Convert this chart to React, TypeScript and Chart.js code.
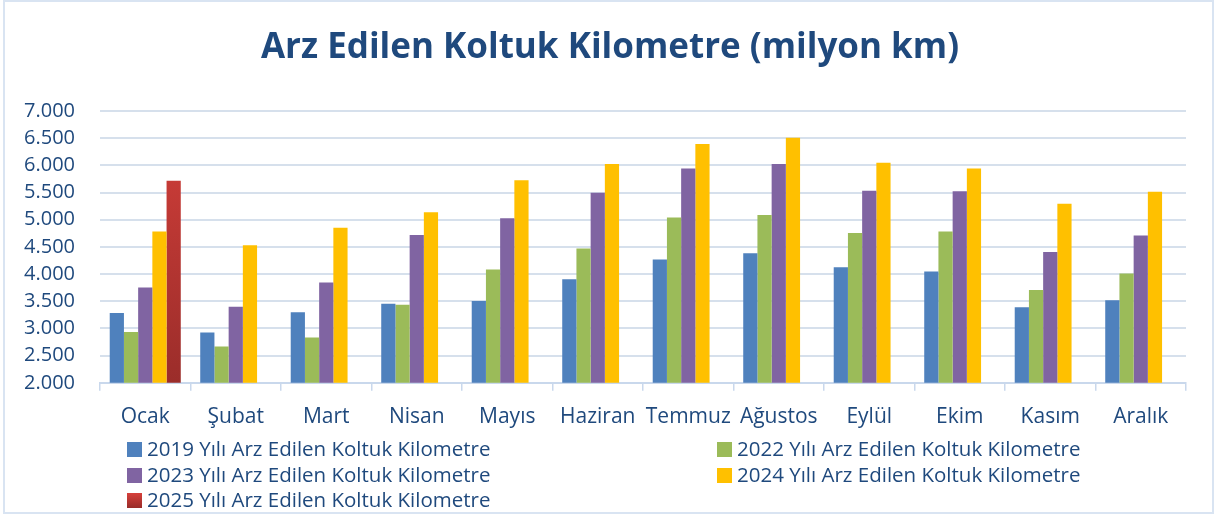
import React, { useEffect, useRef } from "react";
import { Chart, registerables } from "chart.js";

Chart.register(...registerables);

const titleText = "Arz Edilen Koltuk Kilometre (milyon km)";
const months = ["Ocak", "Şubat", "Mart", "Nisan", "Mayıs", "Haziran", "Temmuz", "Ağustos", "Eylül", "Ekim", "Kasım", "Aralık"];
const seriesNames = [
  "2019 Yılı Arz Edilen Koltuk Kilometre",
  "2022 Yılı Arz Edilen Koltuk Kilometre",
  "2023 Yılı Arz Edilen Koltuk Kilometre",
  "2024 Yılı Arz Edilen Koltuk Kilometre",
  "2025 Yılı Arz Edilen Koltuk Kilometre",
];
const values2019 = [3283, 2927, 3296, 3456, 3504, 3904, 4267, 4383, 4125, 4046, 3388, 3517];
const values2022 = [2933, 2669, 2835, 3437, 4083, 4470, 5041, 5089, 4757, 4783, 3707, 4009];
const values2023 = [3751, 3401, 3843, 4720, 5028, 5494, 5944, 6023, 5531, 5526, 4407, 4709];
const values2024 = [4783, 4530, 4850, 5139, 5728, 6023, 6392, 6508, 6047, 5944, 5292, 5513];
const values2025 = [5716, null, null, null, null, null, null, null, null, null, null, null];
const yMin = 2000;
const yMax = 7000;
const yStep = 500;

const colors = ["#4F81BD", "#9BBB59", "#8064A2", "#FFC000", "#C0392B"];
const textColor = "#1F497D";
const fontFamily = "'Open Sans', Lato, sans-serif";

export default function App() {
  const canvasRef = useRef<HTMLCanvasElement>(null);

  useEffect(() => {
    const canvas = canvasRef.current;
    if (!canvas) return;

    const redGradient = (ctx: any) => {
      const chart = ctx.chart;
      const area = chart.chartArea;
      if (!area) return "#C0392B";
      const g = chart.ctx.createLinearGradient(0, area.top, 0, area.bottom);
      g.addColorStop(0, "#D43F3A");
      g.addColorStop(1, "#9B2D2A");
      return g;
    };

    const decorPlugin = {
      id: "titleAndLegend",
      afterDraw(chart: any) {
        const ctx = chart.ctx;
        ctx.save();
        // title
        ctx.font = `bold 35px ${fontFamily}`;
        ctx.textBaseline = "middle";
        ctx.textAlign = "center";
        ctx.fillStyle = textColor;
        ctx.fillText(titleText, 610, 48);
        // legend
        const cols = [127, 717];
        const rows = [449.5, 475.5, 500.5];
        ctx.font = `20.5px ${fontFamily}`;
        ctx.textAlign = "left";
        seriesNames.forEach((name, i) => {
          const x = cols[i % 2];
          const y = rows[Math.floor(i / 2)];
          if (i === 4) {
            const g = ctx.createLinearGradient(0, y - 7, 0, y + 7);
            g.addColorStop(0, "#D43F3A");
            g.addColorStop(1, "#9B2D2A");
            ctx.fillStyle = g;
          } else {
            ctx.fillStyle = colors[i];
          }
          ctx.fillRect(x, y - 7.5, 15, 15);
          ctx.fillStyle = textColor;
          ctx.fillText(name, x + 20, y + 1);
        });
        ctx.restore();
      },
    };

    const chart = new Chart(canvas, {
      type: "bar",
      data: {
        labels: months,
        datasets: [
          { label: seriesNames[0], data: values2019, backgroundColor: colors[0] },
          { label: seriesNames[1], data: values2022, backgroundColor: colors[1] },
          { label: seriesNames[2], data: values2023, backgroundColor: colors[2] },
          { label: seriesNames[3], data: values2024, backgroundColor: colors[3] },
          { label: seriesNames[4], data: values2025 as any, backgroundColor: redGradient as any },
        ],
      },
      options: {
        animation: false,
        responsive: false,
        maintainAspectRatio: false,
        layout: { padding: { left: 0, right: 29, top: 111, bottom: 72 } },
        datasets: {
          bar: { categoryPercentage: 0.785, barPercentage: 1.0 },
        },
        plugins: {
          legend: { display: false },
          tooltip: { enabled: false },
          title: { display: false },
        },
        scales: {
          x: {
            grid: {
              display: true,
              drawOnChartArea: false,
              drawTicks: true,
              tickLength: 8,
              color: "#C9D8EC",
              lineWidth: 1.5,
            },
            border: { display: true, color: "#C9D8EC", width: 2 },
            ticks: {
              color: textColor,
              font: { family: fontFamily, size: 21 },
              padding: 14,
              autoSkip: false,
              maxRotation: 0,
              minRotation: 0,
            },
          },
          y: {
            min: yMin,
            max: yMax,
            afterFit: (scale: any) => {
              scale.width = 100;
            },
            grid: {
              display: true,
              drawTicks: false,
              color: "#D6E0EC",
              lineWidth: 2,
            },
            border: { display: false },
            ticks: {
              stepSize: yStep,
              autoSkip: false,
              color: textColor,
              font: { family: fontFamily, size: 20 },
              padding: 25,
              callback: (v: any) => Number(v).toLocaleString("de-DE", { minimumFractionDigits: 3 }).replace(/,\d+$/, ""),
            },
          },
        },
      },
      plugins: [decorPlugin],
    });

    return () => chart.destroy();
  }, []);

  return (
    <div style={{ position: "fixed", left: 0, top: 0, width: 1215, height: 516, background: "#fff" }}>
      <canvas ref={canvasRef} width={1215} height={516} style={{ position: "absolute", left: 0, top: 0 }} />
      <div
        style={{
          position: "absolute",
          left: 3,
          top: 0,
          width: 1211,
          height: 514,
          boxSizing: "border-box",
          border: "2px solid #D9E4F2",
          pointerEvents: "none",
        }}
      />
    </div>
  );
}
